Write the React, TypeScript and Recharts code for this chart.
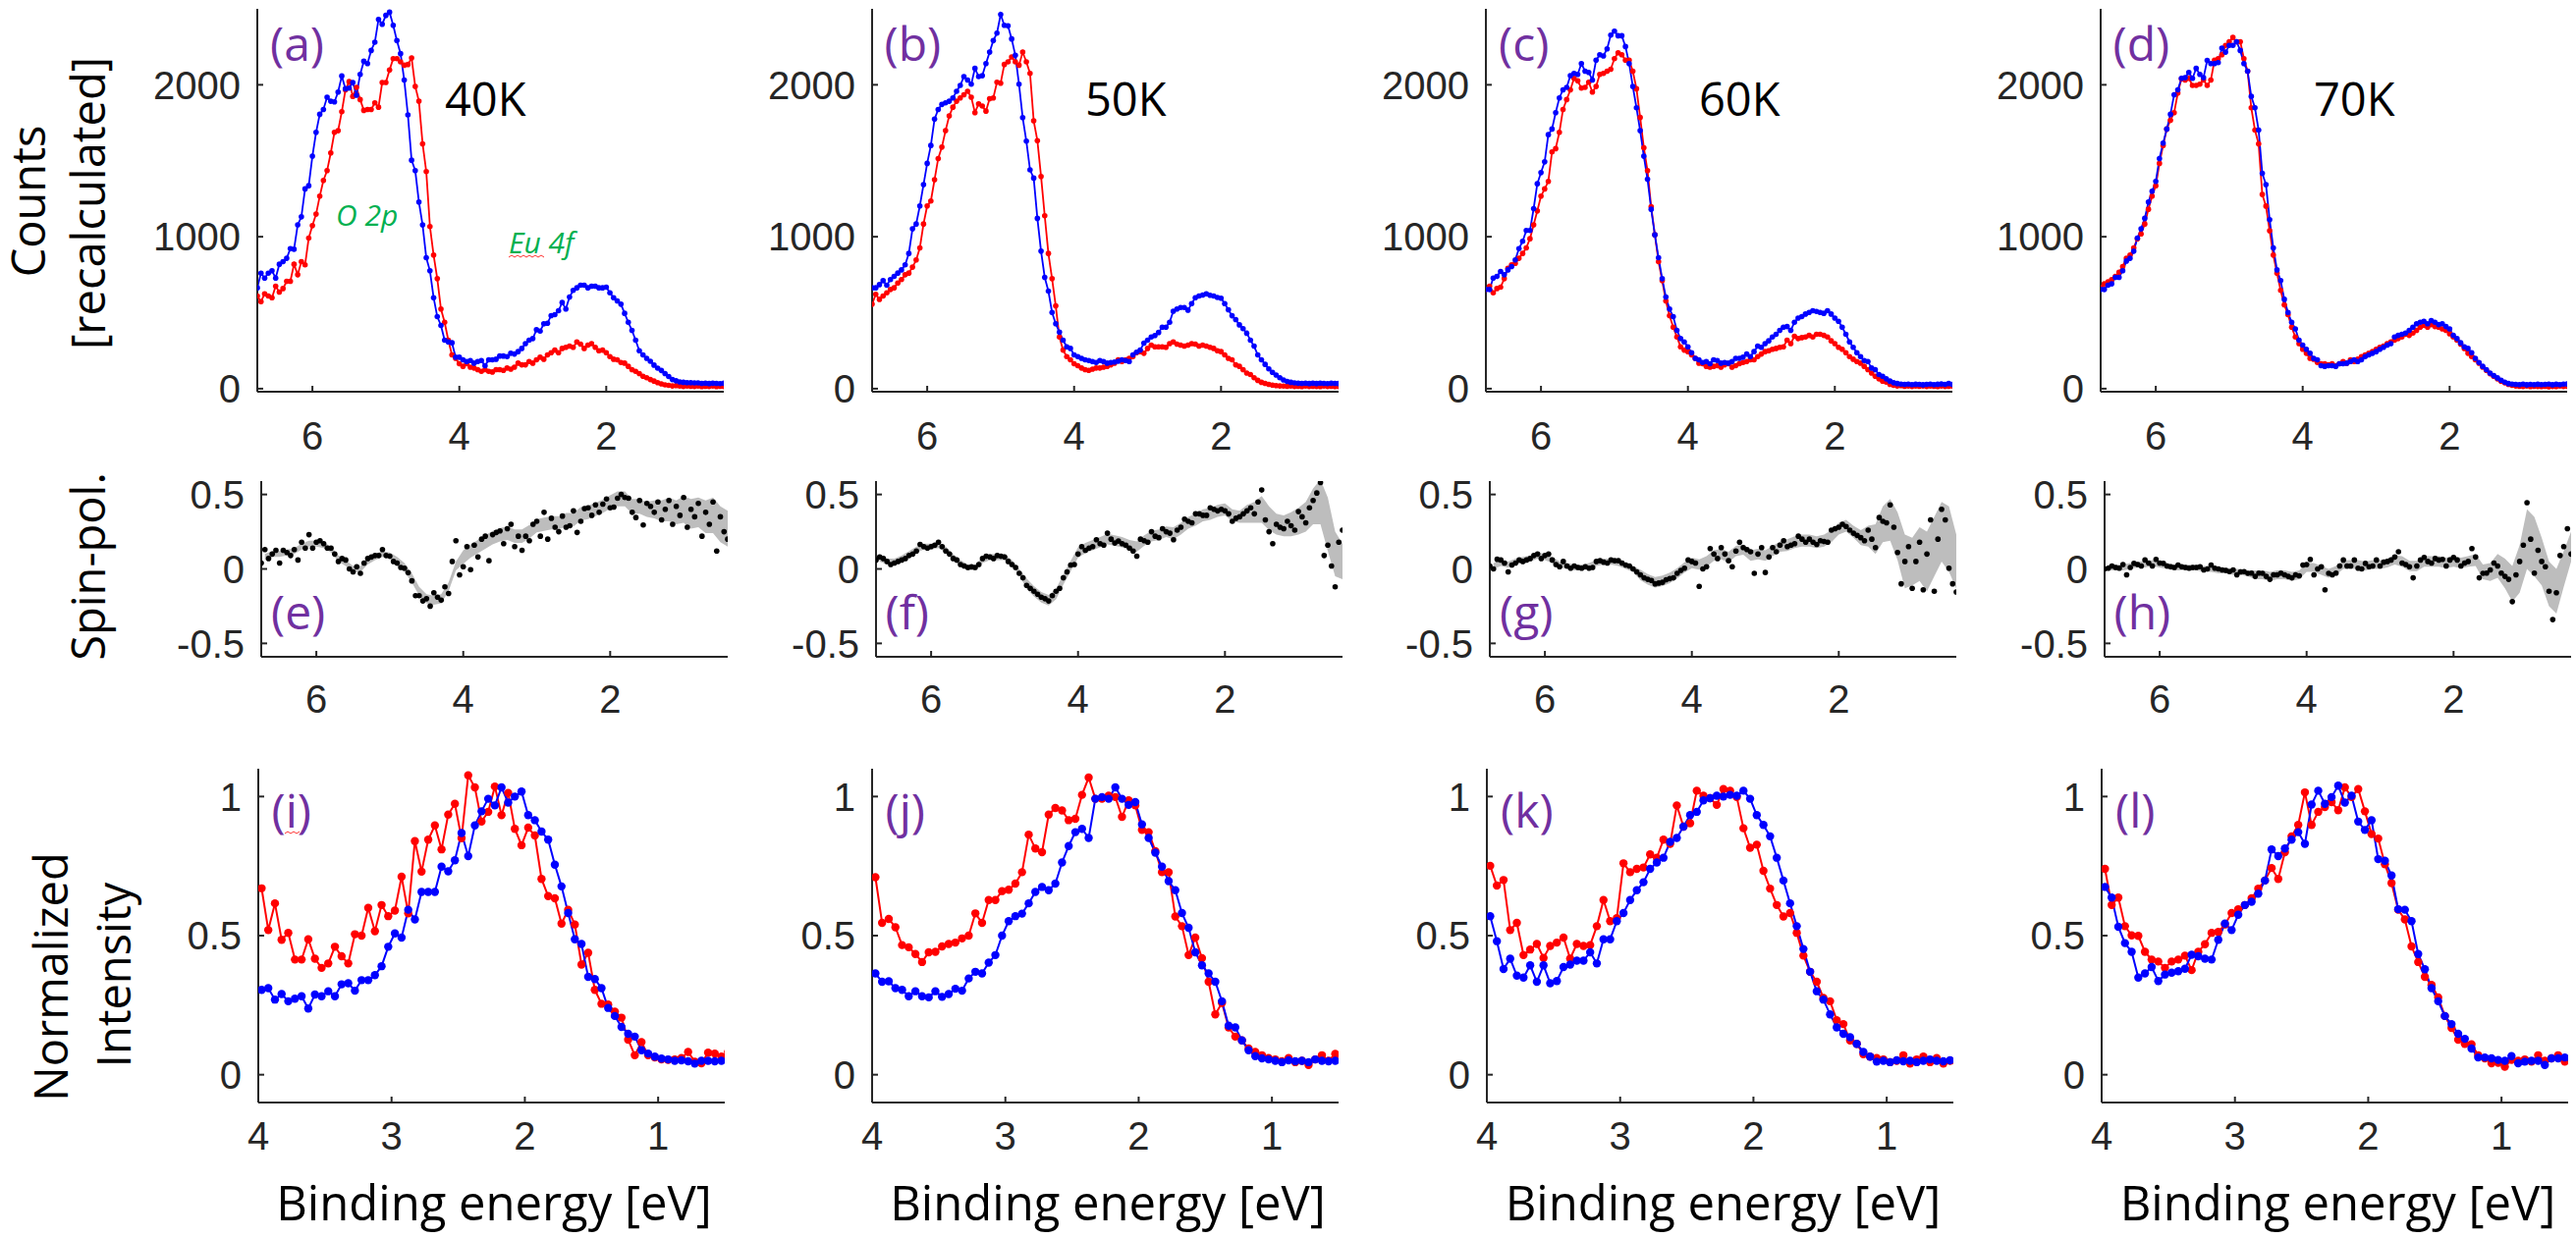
import React from 'react'
import { ComposedChart, Line, Area, XAxis, YAxis } from 'recharts'

// energy grids in eV (equidistant measurement steps)
const eTop = Array.from({ length: 128 }, (_, i) => +(6.75 - 0.05 * i).toFixed(3))
const eNorm = Array.from({ length: 71 }, (_, i) => +(3.975 - 0.05 * i).toFixed(3))

// ---- row 1: counts [recalculated], 6.75 -> 0.40 eV ----
const red40 = [
  610, 573, 625, 610, 599, 675, 636, 659, 707, 707, 819, 750, 836, 815, 991, 1073, 1149, 1267, 1371, 1435,
  1552, 1687, 1698, 1823, 1967, 2021, 1924, 1983, 1903, 1832, 1838, 1838, 1881, 1853, 2015, 2015, 2097, 2172, 2172, 2151,
  2129, 2134, 2177, 1989, 1892, 1612, 1429, 1067, 879, 724, 524, 437, 319, 222, 200, 164, 147, 164, 142, 136,
  125, 114, 125, 114, 110, 125, 125, 121, 136, 129, 142, 168, 157, 157, 179, 168, 190, 207, 194, 222,
  237, 254, 237, 265, 272, 280, 272, 308, 293, 265, 287, 297, 272, 250, 254, 237, 211, 194, 190, 172,
  168, 147, 125, 114, 100, 82, 72, 60, 50, 40, 32, 25, 22, 18, 20, 17, 15, 18, 16, 15,
  17, 14, 16, 15, 18, 14, 16, 15,
]
const blue40 = [
  664, 760, 728, 760, 776, 728, 819, 836, 858, 922, 918, 1078, 1131, 1315, 1336, 1530, 1687, 1806, 1838, 1918,
  1892, 1888, 1952, 2058, 1974, 1978, 2015, 1931, 2069, 2155, 2140, 2226, 2280, 2431, 2399, 2457, 2478, 2392, 2291, 2205,
  2032, 1802, 1504, 1435, 1228, 1078, 862, 776, 599, 474, 416, 319, 308, 302, 207, 207, 190, 179, 185, 168,
  179, 185, 151, 190, 190, 194, 215, 215, 211, 233, 228, 244, 265, 297, 319, 330, 388, 379, 427, 431,
  481, 487, 513, 567, 524, 603, 647, 664, 681, 681, 664, 675, 675, 664, 664, 668, 631, 599, 578, 556,
  496, 437, 384, 319, 250, 222, 200, 180, 155, 135, 120, 100, 80, 60, 52, 45, 42, 40, 40, 38,
  38, 35, 37, 34, 36, 35, 33, 36,
]
const red50 = [
  556, 621, 588, 610, 631, 653, 664, 696, 718, 750, 761, 800, 847, 927, 1084, 1203, 1235, 1375, 1515, 1590,
  1698, 1795, 1853, 1892, 1914, 1935, 1957, 1918, 1817, 1875, 1860, 1827, 1909, 1914, 2017, 2011, 2134, 2151, 2183, 2151,
  2129, 2215, 2151, 2075, 1763, 1633, 1397, 1138, 890, 724, 545, 340, 254, 211, 190, 164, 151, 136, 125, 121,
  129, 136, 136, 142, 147, 157, 168, 190, 179, 190, 200, 211, 237, 244, 233, 265, 287, 276, 276, 276,
  272, 297, 308, 293, 287, 280, 287, 297, 293, 280, 287, 280, 272, 265, 250, 244, 222, 200, 190, 157,
  147, 125, 103, 93, 72, 55, 42, 35, 28, 24, 20, 18, 17, 16, 18, 15, 16, 14, 17, 15,
  16, 15, 14, 17, 15, 16, 14, 15,
]
const blue50 = [
  664, 664, 685, 711, 681, 718, 739, 761, 782, 815, 890, 1052, 1084, 1203, 1343, 1483, 1601, 1774, 1838, 1871,
  1881, 1892, 1914, 1957, 1996, 2054, 2032, 2004, 2108, 2054, 2060, 2140, 2215, 2291, 2340, 2463, 2392, 2388, 2302, 2194,
  2004, 1784, 1629, 1440, 1386, 1121, 905, 733, 642, 502, 427, 373, 319, 276, 265, 222, 211, 200, 190, 185,
  179, 172, 185, 179, 168, 172, 175, 180, 190, 185, 179, 222, 240, 254, 300, 319, 340, 350, 370, 405,
  405, 437, 510, 524, 534, 534, 517, 560, 599, 610, 616, 625, 615, 610, 600, 595, 560, 520, 480, 455,
  420, 395, 365, 319, 280, 222, 190, 160, 130, 108, 90, 72, 58, 48, 42, 38, 36, 35, 37, 34,
  36, 34, 37, 35, 33, 36, 35, 34,
]
const red60 = [
  653, 675, 631, 659, 668, 724, 793, 815, 825, 858, 890, 927, 987, 1078, 1170, 1267, 1315, 1364, 1558, 1580,
  1687, 1838, 1903, 1967, 2043, 2026, 1978, 1983, 2017, 1952, 1989, 2069, 2075, 2090, 2103, 2172, 2211, 2198, 2162, 2162,
  2090, 1974, 1785, 1586, 1435, 1198, 1013, 836, 711, 578, 481, 405, 340, 276, 254, 244, 222, 200, 168, 164,
  147, 142, 147, 151, 142, 157, 164, 142, 151, 164, 172, 179, 190, 190, 211, 228, 244, 250, 259, 265,
  272, 276, 319, 297, 345, 330, 336, 340, 351, 340, 358, 358, 351, 340, 315, 297, 272, 259, 237, 211,
  194, 179, 168, 147, 125, 103, 82, 65, 50, 43, 28, 22, 18, 20, 16, 18, 15, 17, 16, 18,
  15, 17, 16, 14, 18, 15, 16, 17,
]
const blue60 = [
  653, 653, 728, 739, 772, 750, 782, 804, 847, 922, 970, 1041, 1041, 1185, 1349, 1422, 1493, 1672, 1709, 1817,
  1914, 1967, 1983, 2060, 2075, 2069, 2140, 2090, 2082, 2032, 2162, 2198, 2190, 2237, 2327, 2353, 2323, 2323, 2252, 2140,
  1989, 1849, 1698, 1530, 1379, 1181, 1013, 862, 724, 603, 524, 474, 384, 330, 308, 276, 237, 200, 190, 172,
  179, 164, 190, 185, 168, 172, 168, 179, 200, 200, 207, 228, 211, 244, 280, 272, 297, 315, 340, 358,
  384, 405, 409, 384, 437, 465, 474, 491, 502, 513, 508, 502, 496, 513, 491, 465, 444, 405, 358, 308,
  272, 237, 211, 185, 179, 136, 125, 93, 82, 65, 50, 39, 34, 30, 28, 30, 27, 29, 28, 26,
  28, 30, 27, 29, 31, 28, 34, 28,
]
const red70 = [
  664, 690, 703, 718, 739, 767, 804, 858, 879, 927, 987, 1019, 1084, 1181, 1267, 1336, 1483, 1601, 1709, 1767,
  1817, 1946, 2039, 2032, 2043, 1996, 1996, 2004, 2032, 1996, 2032, 2162, 2172, 2198, 2259, 2284, 2312, 2284, 2284, 2172,
  2090, 1849, 1702, 1612, 1278, 1202, 1040, 879, 761, 647, 552, 487, 405, 340, 297, 259, 233, 200, 194, 172,
  164, 164, 157, 164, 151, 164, 179, 168, 190, 179, 194, 211, 222, 233, 244, 259, 272, 280, 297, 308,
  319, 330, 340, 358, 351, 366, 384, 405, 416, 405, 422, 409, 405, 394, 384, 362, 340, 319, 293, 265,
  233, 211, 190, 168, 142, 121, 99, 82, 65, 50, 39, 28, 22, 18, 16, 15, 17, 14, 16, 15,
  14, 16, 13, 15, 14, 17, 15, 16,
]
const blue70 = [
  653, 653, 681, 690, 733, 733, 776, 840, 858, 905, 991, 1052, 1121, 1228, 1300, 1364, 1515, 1616, 1709, 1806,
  1935, 1967, 2043, 2047, 2082, 2043, 2108, 2069, 2047, 2161, 2140, 2140, 2146, 2241, 2215, 2259, 2259, 2284, 2226, 2140,
  2090, 1924, 1849, 1702, 1418, 1343, 1112, 927, 782, 711, 588, 502, 437, 394, 319, 287, 259, 233, 200, 190,
  151, 147, 151, 151, 147, 164, 164, 168, 179, 190, 179, 190, 211, 222, 233, 244, 259, 272, 287, 297,
  340, 351, 358, 366, 384, 405, 427, 437, 444, 427, 448, 437, 422, 427, 409, 394, 351, 330, 302, 276,
  265, 237, 200, 172, 147, 125, 103, 86, 71, 56, 43, 34, 30, 28, 27, 30, 26, 28, 27, 29,
  27, 28, 30, 26, 29, 27, 30, 31,
]

// ---- row 2: spin polarisation dots, 6.75 -> 0.40 eV ----
const spin40 = [
  0.04, 0.13, 0.07, 0.10, 0.125, 0.04, 0.125, 0.11, 0.09, 0.13, 0.06, 0.18, 0.14, 0.23, 0.14, 0.18, 0.19, 0.17, 0.14, 0.14,
  0.10, 0.05, 0.07, 0.06, 0.0, -0.02, 0.015, -0.03, 0.04, 0.07, 0.08, 0.09, 0.09, 0.13, 0.09, 0.085, 0.05, 0.04, 0.01, 0.005,
  -0.025, -0.08, -0.18, -0.18, -0.215, -0.2, -0.25, -0.16, -0.19, -0.21, -0.12, -0.165, 0.05, 0.19, -0.04, 0.015, 0.15, -0.005, 0.16, 0.08,
  0.2, 0.22, 0.055, 0.23, 0.245, 0.255, 0.17, 0.27, 0.3, 0.15, 0.22, 0.125, 0.22, 0.19, 0.3, 0.32, 0.22, 0.38, 0.2, 0.34,
  0.28, 0.25, 0.355, 0.28, 0.29, 0.39, 0.245, 0.32, 0.405, 0.41, 0.36, 0.43, 0.38, 0.435, 0.47, 0.41, 0.415, 0.475, 0.5, 0.48,
  0.475, 0.38, 0.345, 0.46, 0.295, 0.44, 0.42, 0.38, 0.45, 0.33, 0.40, 0.46, 0.30, 0.42, 0.36, 0.48, 0.28, 0.40, 0.35, 0.44,
  0.22, 0.38, 0.30, 0.45, 0.12, 0.35, 0.25, 0.20,
]
const spin50 = [
  0.06, 0.08, 0.07, 0.05, 0.03, 0.04, 0.05, 0.06, 0.07, 0.09, 0.10, 0.12, 0.165, 0.15, 0.14, 0.15, 0.16, 0.18, 0.15, 0.12,
  0.10, 0.07, 0.06, 0.03, 0.02, 0.01, 0.015, 0.01, 0.03, 0.07, 0.085, 0.08, 0.07, 0.09, 0.085, 0.08, 0.05, 0.03, 0.01, -0.03,
  -0.06, -0.11, -0.13, -0.15, -0.17, -0.19, -0.2, -0.215, -0.18, -0.15, -0.13, -0.06, -0.02, 0.026, 0.03, 0.10, 0.15, 0.125, 0.14, 0.15,
  0.196, 0.17, 0.16, 0.24, 0.20, 0.174, 0.187, 0.17, 0.16, 0.14, 0.12, 0.086, 0.2, 0.19, 0.18, 0.25, 0.22, 0.21, 0.27, 0.25,
  0.24, 0.196, 0.26, 0.28, 0.335, 0.32, 0.31, 0.37, 0.37, 0.36, 0.36, 0.41, 0.40, 0.39, 0.40, 0.39, 0.37, 0.32, 0.34, 0.35,
  0.37, 0.39, 0.41, 0.37, 0.45, 0.53, 0.33, 0.25, 0.17, 0.3, 0.28, 0.27, 0.32, 0.29, 0.26, 0.385, 0.35, 0.31, 0.41, 0.46,
  0.51, 0.58, 0.09, 0.16, 0.02, -0.12, 0.18, 0.26,
]
const spin60 = [
  0.02, 0.0, 0.065, 0.06, 0.04, -0.02, 0.026, 0.04, 0.06, 0.05, 0.06, 0.07, 0.09, 0.10, 0.07, 0.09, 0.10, 0.06, 0.03, 0.015,
  0.05, 0.02, 0.005, 0.02, 0.01, 0.005, 0.015, 0.005, 0.01, 0.05, 0.055, 0.045, 0.04, 0.06, 0.055, 0.055, 0.04, 0.026, 0.02, 0.0,
  -0.02, -0.04, -0.06, -0.07, -0.077, -0.1, -0.095, -0.09, -0.073, -0.065, -0.06, -0.03, -0.01, 0.005, 0.06, 0.05, 0.04, -0.117, 0.0, 0.015,
  0.137, 0.10, 0.07, 0.143, 0.1, 0.055, 0.015, 0.12, 0.18, 0.143, 0.13, 0.115, -0.03, 0.1, 0.143, -0.024, 0.08, 0.143, 0.115, 0.16,
  0.19, 0.15, 0.16, 0.17, 0.22, 0.20, 0.18, 0.2, 0.18, 0.165, 0.19, 0.185, 0.18, 0.26, 0.27, 0.28, 0.3, 0.285, 0.26, 0.24,
  0.225, 0.21, 0.19, 0.26, 0.2, 0.143, 0.345, 0.32, 0.31, 0.43, 0.28, 0.11, -0.1, 0.05, 0.15, -0.13, 0.05, 0.18, -0.14, 0.1,
  0.33, -0.15, 0.2, 0.40, 0.33, 0.005, -0.1, -0.155,
]
const spin70 = [
  0.0, 0.005, 0.02, 0.01, 0.005, 0.03, -0.04, 0.01, 0.037, 0.03, 0.02, 0.06, 0.04, 0.02, 0.064, 0.04, 0.037, 0.02, 0.015, 0.01,
  0.026, 0.015, 0.01, 0.005, 0.01, 0.01, 0.015, -0.007, 0.0, 0.026, 0.005, 0.0, -0.007, -0.01, -0.018, -0.007, -0.04, -0.02, -0.018, -0.03,
  -0.028, -0.05, -0.028, -0.03, -0.05, -0.07, -0.04, -0.04, -0.028, -0.04, -0.05, -0.06, -0.04, -0.046, 0.026, 0.03, 0.064, -0.04, 0.0, 0.015,
  -0.14, -0.03, -0.04, -0.028, 0.02, 0.06, 0.02, 0.02, 0.06, 0.005, 0.0, 0.037, 0.015, 0.02, 0.06, 0.02, 0.045, 0.05, 0.06, 0.08,
  0.115, 0.04, 0.03, 0.015, -0.06, 0.02, 0.06, 0.077, 0.05, 0.04, 0.07, 0.06, 0.064, 0.02, 0.06, 0.077, 0.06, 0.02, 0.04, 0.05,
  0.137, 0.08, -0.06, -0.03, -0.028, -0.007, 0.04, 0.02, -0.028, -0.05, -0.07, -0.22, -0.04, 0.05, 0.16, 0.445, 0.2, -0.028, 0.125, 0.05,
  0.015, -0.15, -0.34, -0.16, 0.09, 0.15, 0.27, 0.1,
]

// grey error band: centre and half width every 0.1 eV, 6.7 -> 0.4 eV
const bandMid40 = [
  0.08, 0.10, 0.10, 0.11, 0.12, 0.15, 0.17, 0.17, 0.16, 0.13, 0.07, 0.04, 0.00, 0.00, 0.05, 0.08, 0.10, 0.09, 0.05, 0.01,
  -0.06, -0.15, -0.20, -0.21, -0.20, -0.12, 0.02, 0.08, 0.12, 0.15, 0.18, 0.21, 0.23, 0.24, 0.22, 0.22, 0.25, 0.29, 0.30, 0.31,
  0.31, 0.33, 0.33, 0.37, 0.38, 0.40, 0.42, 0.45, 0.47, 0.47, 0.42, 0.42, 0.40, 0.40, 0.39, 0.40, 0.38, 0.40, 0.37, 0.38,
  0.35, 0.36, 0.30, 0.27,
]
const bandHalf40 = [
  0.02, 0.02, 0.02, 0.02, 0.02, 0.02, 0.02, 0.02, 0.02, 0.02, 0.02, 0.02, 0.02, 0.02, 0.02, 0.02, 0.02, 0.02, 0.03, 0.03,
  0.03, 0.03, 0.03, 0.03, 0.03, 0.03, 0.03, 0.045, 0.045, 0.045, 0.045, 0.045, 0.045, 0.045, 0.045, 0.045, 0.045, 0.045, 0.045, 0.045,
  0.045, 0.045, 0.045, 0.045, 0.045, 0.045, 0.045, 0.045, 0.05, 0.05, 0.05, 0.05, 0.05, 0.06, 0.07, 0.08, 0.08, 0.09, 0.10, 0.10,
  0.11, 0.12, 0.12, 0.12,
]
const bandMid50 = [
  0.07, 0.05, 0.05, 0.07, 0.10, 0.13, 0.15, 0.15, 0.16, 0.13, 0.08, 0.04, 0.01, 0.01, 0.06, 0.08, 0.08, 0.08, 0.04, -0.02,
  -0.10, -0.15, -0.19, -0.21, -0.17, -0.07, 0.02, 0.11, 0.14, 0.16, 0.18, 0.20, 0.19, 0.18, 0.16, 0.15, 0.19, 0.22, 0.23, 0.25,
  0.24, 0.27, 0.31, 0.33, 0.36, 0.37, 0.39, 0.40, 0.36, 0.35, 0.37, 0.38, 0.40, 0.34, 0.30, 0.29, 0.30, 0.32, 0.35, 0.42,
  0.45, 0.30, 0.10, 0.05,
]
const bandHalf50 = [
  0.02, 0.02, 0.02, 0.02, 0.02, 0.02, 0.02, 0.02, 0.02, 0.02, 0.02, 0.02, 0.02, 0.02, 0.02, 0.02, 0.02, 0.02, 0.02, 0.02,
  0.035, 0.035, 0.035, 0.035, 0.035, 0.035, 0.035, 0.035, 0.035, 0.035, 0.035, 0.035, 0.035, 0.035, 0.035, 0.035, 0.035, 0.035, 0.035, 0.035,
  0.04, 0.04, 0.04, 0.04, 0.04, 0.04, 0.04, 0.04, 0.04, 0.04, 0.06, 0.07, 0.09, 0.08, 0.07, 0.07, 0.08, 0.09, 0.10, 0.12,
  0.15, 0.18, 0.15, 0.12,
]
const bandMid60 = [
  0.02, 0.04, 0.03, 0.05, 0.06, 0.07, 0.09, 0.08, 0.06, 0.03, 0.02, 0.01, 0.01, 0.02, 0.04, 0.05, 0.05, 0.04, 0.02, 0.00,
  -0.04, -0.07, -0.09, -0.08, -0.06, -0.03, 0.01, 0.04, 0.03, 0.05, 0.09, 0.10, 0.08, 0.12, 0.13, 0.09, 0.10, 0.09, 0.12, 0.15,
  0.16, 0.18, 0.19, 0.19, 0.18, 0.19, 0.22, 0.27, 0.29, 0.25, 0.21, 0.22, 0.20, 0.30, 0.33, 0.22, 0.05, 0.05, 0.10, 0.05,
  0.15, 0.25, 0.20, 0.05,
]
const bandHalf60 = [
  0.02, 0.02, 0.02, 0.02, 0.02, 0.02, 0.02, 0.02, 0.02, 0.02, 0.02, 0.02, 0.02, 0.02, 0.02, 0.02, 0.02, 0.02, 0.02, 0.02,
  0.035, 0.035, 0.035, 0.035, 0.035, 0.035, 0.035, 0.035, 0.035, 0.035, 0.035, 0.035, 0.035, 0.035, 0.035, 0.035, 0.035, 0.035, 0.035, 0.035,
  0.04, 0.04, 0.04, 0.04, 0.04, 0.04, 0.04, 0.04, 0.04, 0.04, 0.05, 0.07, 0.10, 0.12, 0.14, 0.16, 0.18, 0.16, 0.18, 0.20,
  0.20, 0.20, 0.22, 0.18,
]
const bandMid70 = [
  0.01, 0.01, 0.01, 0.02, 0.03, 0.03, 0.04, 0.03, 0.02, 0.01, 0.01, 0.01, 0.01, 0.00, 0.00, -0.01, -0.01, -0.02, -0.02, -0.03,
  -0.04, -0.04, -0.05, -0.04, -0.04, -0.05, -0.04, 0.01, 0.01, -0.01, -0.03, -0.01, 0.03, 0.03, 0.03, 0.02, 0.03, 0.03, 0.04, 0.06,
  0.05, 0.02, 0.02, 0.05, 0.05, 0.05, 0.04, 0.05, 0.04, 0.05, 0.06, -0.02, -0.02, 0.02, -0.03, -0.10, 0.00, 0.20, 0.15, 0.05,
  -0.10, -0.15, 0.00, 0.15,
]
const bandHalf70 = [
  0.02, 0.02, 0.02, 0.02, 0.02, 0.02, 0.02, 0.02, 0.02, 0.02, 0.02, 0.02, 0.02, 0.02, 0.02, 0.02, 0.02, 0.02, 0.02, 0.02,
  0.03, 0.03, 0.03, 0.03, 0.03, 0.03, 0.03, 0.03, 0.03, 0.03, 0.03, 0.03, 0.03, 0.03, 0.03, 0.03, 0.03, 0.03, 0.03, 0.03,
  0.035, 0.035, 0.035, 0.035, 0.035, 0.035, 0.035, 0.035, 0.035, 0.035, 0.04, 0.05, 0.06, 0.08, 0.10, 0.12, 0.16, 0.20, 0.20, 0.16,
  0.15, 0.15, 0.12, 0.10,
]

// ---- row 3: normalized Eu 4f intensity, 3.975 -> 0.475 eV ----
const norm40Red = [
  0.67, 0.52, 0.616, 0.485, 0.51, 0.414, 0.414, 0.487, 0.417, 0.384,
  0.40, 0.46, 0.426, 0.40, 0.505, 0.50, 0.60, 0.516, 0.61, 0.57,
  0.59, 0.712, 0.58, 0.84, 0.73, 0.845, 0.896, 0.81, 0.935, 0.974,
  0.85, 1.076, 1.033, 0.91, 0.945, 1.036, 0.933, 1.013, 0.884, 0.825,
  0.888, 0.86, 0.704, 0.642, 0.634, 0.543, 0.593, 0.54, 0.396, 0.438,
  0.305, 0.255, 0.252, 0.227, 0.205, 0.126, 0.07, 0.117, 0.07, 0.062,
  0.055, 0.053, 0.055, 0.06, 0.082, 0.047, 0.041, 0.079, 0.076, 0.065,
  0.082,
]
const norm40Blue = [
  0.305, 0.311, 0.27, 0.29, 0.264, 0.273, 0.282, 0.238, 0.288, 0.282,
  0.30, 0.282, 0.325, 0.329, 0.302, 0.34, 0.34, 0.358, 0.39, 0.46,
  0.508, 0.493, 0.593, 0.558, 0.657, 0.657, 0.657, 0.748, 0.731, 0.771,
  0.869, 0.786, 0.896, 0.947, 0.992, 0.968, 1.033, 0.978, 1.0, 1.018,
  0.933, 0.915, 0.874, 0.845, 0.755, 0.677, 0.581, 0.487, 0.47, 0.352,
  0.344, 0.311, 0.24, 0.211, 0.172, 0.147, 0.137, 0.088, 0.076, 0.065,
  0.058, 0.055, 0.05, 0.052, 0.048, 0.04, 0.05, 0.05, 0.048, 0.05,
  0.05,
]
const norm50Red = [
  0.71, 0.546, 0.56, 0.53, 0.466, 0.458, 0.434, 0.405, 0.44, 0.442,
  0.461, 0.47, 0.475, 0.49, 0.50, 0.58, 0.546, 0.628, 0.628, 0.66,
  0.665, 0.687, 0.728, 0.863, 0.813, 0.80, 0.935, 0.959, 0.95, 0.915,
  0.92, 1.006, 1.068, 0.992, 0.992, 1.003, 0.998, 0.927, 0.986, 0.968,
  0.88, 0.872, 0.804, 0.728, 0.728, 0.569, 0.534, 0.43, 0.493, 0.419,
  0.334, 0.217, 0.258, 0.17, 0.137, 0.123, 0.094, 0.082, 0.07, 0.06,
  0.055, 0.048, 0.06, 0.045, 0.05, 0.035, 0.055, 0.07, 0.05, 0.075,
  0.06,
]
const norm50Blue = [
  0.364, 0.334, 0.336, 0.311, 0.305, 0.282, 0.30, 0.282, 0.278, 0.30,
  0.28, 0.29, 0.309, 0.302, 0.346, 0.37, 0.364, 0.403, 0.43, 0.50,
  0.552, 0.57, 0.579, 0.616, 0.657, 0.675, 0.663, 0.687, 0.763, 0.822,
  0.872, 0.884, 0.851, 0.992, 0.998, 0.992, 1.033, 0.992, 0.97, 0.98,
  0.90, 0.851, 0.798, 0.748, 0.696, 0.663, 0.581, 0.528, 0.44, 0.393,
  0.364, 0.334, 0.264, 0.176, 0.17, 0.123, 0.088, 0.067, 0.059, 0.055,
  0.05, 0.045, 0.052, 0.048, 0.05, 0.045, 0.055, 0.05, 0.048, 0.05,
  0.05,
]
const norm60Red = [
  0.751, 0.68, 0.70, 0.52, 0.546, 0.43, 0.45, 0.47, 0.42, 0.463,
  0.475, 0.493, 0.417, 0.47, 0.463, 0.466, 0.534, 0.628, 0.552, 0.563,
  0.76, 0.728, 0.74, 0.745, 0.792, 0.78, 0.845, 0.83, 0.968, 0.892,
  0.904, 1.021, 1.003, 0.994, 0.97, 1.027, 1.021, 0.998, 0.886, 0.816,
  0.827, 0.733, 0.669, 0.61, 0.569, 0.581, 0.51, 0.428, 0.37, 0.334,
  0.276, 0.264, 0.196, 0.182, 0.123, 0.111, 0.074, 0.065, 0.06, 0.055,
  0.045, 0.05, 0.07, 0.04, 0.055, 0.065, 0.045, 0.06, 0.04, 0.05,
  0.045,
]
const norm60Blue = [
  0.57, 0.48, 0.38, 0.417, 0.356, 0.349, 0.393, 0.334, 0.393, 0.329,
  0.337, 0.387, 0.396, 0.41, 0.41, 0.44, 0.40, 0.487, 0.487, 0.552,
  0.581, 0.628, 0.663, 0.692, 0.74, 0.763, 0.78, 0.837, 0.851, 0.892,
  0.933, 0.945, 0.986, 0.994, 1.003, 1.0, 1.006, 1.003, 1.021, 0.992,
  0.933, 0.898, 0.857, 0.78, 0.698, 0.616, 0.534, 0.452, 0.37, 0.30,
  0.27, 0.217, 0.17, 0.147, 0.135, 0.111, 0.082, 0.065, 0.047, 0.05,
  0.045, 0.052, 0.048, 0.05, 0.045, 0.05, 0.055, 0.05, 0.048, 0.052,
  0.05,
]
const norm70Red = [
  0.74, 0.61, 0.637, 0.534, 0.501, 0.499, 0.442, 0.414, 0.407, 0.384,
  0.407, 0.414, 0.428, 0.376, 0.442, 0.469, 0.51, 0.513, 0.54, 0.581,
  0.595, 0.61, 0.634, 0.669, 0.698, 0.743, 0.704, 0.80, 0.857, 0.898,
  1.015, 0.898, 0.945, 0.962, 0.98, 0.951, 1.033, 0.998, 1.027, 0.947,
  0.865, 0.849, 0.757, 0.689, 0.593, 0.558, 0.461, 0.405, 0.352, 0.323,
  0.278, 0.211, 0.168, 0.126, 0.111, 0.109, 0.07, 0.059, 0.041, 0.043,
  0.029, 0.053, 0.05, 0.055, 0.047, 0.07, 0.05, 0.059, 0.07, 0.047,
  0.05,
]
const norm70Blue = [
  0.675, 0.637, 0.532, 0.473, 0.442, 0.349, 0.364, 0.387, 0.337, 0.36,
  0.367, 0.372, 0.381, 0.431, 0.426, 0.417, 0.414, 0.485, 0.543, 0.52,
  0.575, 0.61, 0.622, 0.651, 0.698, 0.81, 0.786, 0.813, 0.845, 0.872,
  0.83, 0.971, 1.021, 0.974, 0.998, 1.039, 0.978, 1.003, 0.91, 0.88,
  0.915, 0.775, 0.769, 0.716, 0.595, 0.593, 0.552, 0.434, 0.379, 0.311,
  0.264, 0.211, 0.182, 0.147, 0.129, 0.094, 0.062, 0.062, 0.059, 0.053,
  0.05, 0.067, 0.041, 0.047, 0.05, 0.05, 0.035, 0.059, 0.059, 0.062,
  0.055,
]

const temps = ['40K', '50K', '60K', '70K']
const countsTicks = [0, 1000, 2000]
const spinTicks = [-0.5, 0, 0.5]
const normTicks = [0, 0.5, 1]
const wideTicks = [2, 4, 6]
const narrowTicks = [1, 2, 3, 4]

const pairData = (grid: number[], red: number[], blue: number[]) =>
  grid.map((x, i) => ({ x, red: red[i], blue: blue[i] }))

const spinData = (dots: number[], mid: number[], half: number[]) =>
  eTop.map((x, i) => {
    const row: any = { x, dot: dots[i] }
    if (i % 2 === 1) {
      const j = (i - 1) / 2
      row.band = [mid[j] - half[j], mid[j] + half[j]]
    }
    return row
  })

const countsSets = [
  pairData(eTop, red40, blue40),
  pairData(eTop, red50, blue50),
  pairData(eTop, red60, blue60),
  pairData(eTop, red70, blue70),
]
const spinSets = [
  spinData(spin40, bandMid40, bandHalf40),
  spinData(spin50, bandMid50, bandHalf50),
  spinData(spin60, bandMid60, bandHalf60),
  spinData(spin70, bandMid70, bandHalf70),
]
const normSets = [
  pairData(eNorm, norm40Red, norm40Blue),
  pairData(eNorm, norm50Red, norm50Blue),
  pairData(eNorm, norm60Red, norm60Blue),
  pairData(eNorm, norm70Red, norm70Blue),
]

const INK = '#262626'
const PURPLE = '#7030A0'
const GREEN = '#00B050'
const LABEL_FONT = '"Open Sans", "Noto Sans", "DejaVu Sans", sans-serif'
const tickFont = { fontSize: 40, fill: INK, fontFamily: '"Liberation Sans", Arial, sans-serif' }
const axisStroke = { stroke: INK, strokeWidth: 2 }
const noLabel = () => <g />

const AXW = 130
const PADT = 12
const PADR = 12
const AXH = 80
const PW = 475

const row1 = { top: 9, h: 390, lefts: [262, 887.5, 1513, 2138.5] }
const row2 = { top: 490, h: 179, lefts: [266, 891.5, 1517, 2142.5] }
const row3 = { top: 783, h: 340, lefts: [262.5, 887.5, 1514, 2140] }

function Panel(props: any) {
  const { left, top, h, xDomain, xTicks, yDomain, yTicks, xGap, data, children } = props
  return (
    <div style={{ position: 'absolute', left: left - AXW, top: top - PADT }}>
      <ComposedChart
        width={AXW + PW + PADR}
        height={PADT + h + AXH}
        data={data}
        margin={{ top: PADT, right: PADR, bottom: 0, left: 0 }}
      >
        <XAxis
          xAxisId="b"
          type="number"
          dataKey="x"
          orientation="bottom"
          domain={xDomain}
          ticks={xTicks}
          interval={0}
          reversed
          allowDataOverflow
          height={AXH}
          tickSize={-6}
          tickMargin={xGap + 6}
          tick={tickFont}
          axisLine={axisStroke}
          tickLine={axisStroke}
        />
        <XAxis
          xAxisId="t"
          type="number"
          dataKey="x"
          orientation="top"
          domain={xDomain}
          ticks={xTicks}
          interval={0}
          reversed
          allowDataOverflow
          height={0}
          tickSize={-6}
          tick={noLabel}
          axisLine={axisStroke}
          tickLine={axisStroke}
        />
        <YAxis
          yAxisId="l"
          type="number"
          domain={yDomain}
          ticks={yTicks}
          interval={0}
          allowDataOverflow
          width={AXW}
          tickSize={-6}
          tickMargin={23}
          tick={tickFont}
          axisLine={axisStroke}
          tickLine={axisStroke}
        />
        <YAxis
          yAxisId="r"
          type="number"
          orientation="right"
          domain={yDomain}
          ticks={yTicks}
          interval={0}
          allowDataOverflow
          width={0}
          tickSize={-6}
          tick={noLabel}
          axisLine={axisStroke}
          tickLine={axisStroke}
        />
        {children}
      </ComposedChart>
    </div>
  )
}

function pairLines(r: number, w: number) {
  return [
    <Line
      key="red"
      xAxisId="b"
      yAxisId="l"
      dataKey="red"
      type="linear"
      stroke="#FF0000"
      strokeWidth={w}
      dot={{ r, fill: '#FF0000', stroke: 'none' }}
      activeDot={false}
      isAnimationActive={false}
    />,
    <Line
      key="blue"
      xAxisId="b"
      yAxisId="l"
      dataKey="blue"
      type="linear"
      stroke="#0000FF"
      strokeWidth={w}
      dot={{ r, fill: '#0000FF', stroke: 'none' }}
      activeDot={false}
      isAnimationActive={false}
    />,
  ]
}

const letters1 = ['(a)', '(b)', '(c)', '(d)']
const letters2 = ['(e)', '(f)', '(g)', '(h)']
const letters3 = ['(i)', '(j)', '(k)', '(l)']
const tempX = [453, 1105, 1730, 2356]

export default function App() {
  return (
    <div style={{ position: 'absolute', left: 0, top: 0, width: 2623, height: 1261, background: '#fff', overflow: 'hidden' }}>
      {countsSets.map((d, k) => (
        <Panel key={'c' + k} left={row1.lefts[k]} top={row1.top} h={row1.h} xDomain={[0.4, 6.75]} xTicks={wideTicks}
          yDomain={[-20, 2500]} yTicks={countsTicks} xGap={31} data={d}>
          {pairLines(2.8, 1.8)}
        </Panel>
      ))}
      {spinSets.map((d, k) => (
        <Panel key={'s' + k} left={row2.lefts[k]} top={row2.top} h={row2.h} xDomain={[0.4, 6.75]} xTicks={wideTicks}
          yDomain={[-0.59, 0.59]} yTicks={spinTicks} xGap={29} data={d}>
          <Area
            xAxisId="b"
            yAxisId="l"
            dataKey="band"
            type="linear"
            stroke="none"
            fill="#BDBDBD"
            fillOpacity={1}
            connectNulls
            dot={false}
            activeDot={false}
            isAnimationActive={false}
          />
          <Line
            xAxisId="b"
            yAxisId="l"
            dataKey="dot"
            stroke="none"
            dot={{ r: 2.8, fill: '#000', stroke: 'none' }}
            activeDot={false}
            isAnimationActive={false}
          />
        </Panel>
      ))}
      {normSets.map((d, k) => (
        <Panel key={'n' + k} left={row3.lefts[k]} top={row3.top} h={row3.h} xDomain={[0.5, 4]} xTicks={narrowTicks}
          yDomain={[-0.1, 1.1]} yTicks={normTicks} xGap={20} data={d}>
          {pairLines(4.2, 2)}
        </Panel>
      ))}

      <svg width={2623} height={1261} style={{ position: 'absolute', left: 0, top: 0, pointerEvents: 'none' }}>
        <g fontFamily={LABEL_FONT} fontSize={47} fill="#000" textAnchor="middle">
          <text transform="translate(46,205) rotate(-90)">Counts</text>
          <text transform="translate(107,207) rotate(-90)">[recalculated]</text>
          <text transform="translate(107,577) rotate(-90)">Spin-pol.</text>
          <text transform="translate(69,995) rotate(-90)">Normalized</text>
          <text transform="translate(133,993) rotate(-90)">Intensity</text>
        </g>
        <g fontFamily={LABEL_FONT} fontSize={49} fill="#000" textAnchor="middle">
          {row3.lefts.map((l, k) => (
            <text key={'bx' + k} x={l + PW / 2 + 3} y={1243}>Binding energy [eV]</text>
          ))}
        </g>
        <g fontFamily={LABEL_FONT} fontSize={48} fill={PURPLE}>
          {row1.lefts.map((l, k) => (
            <text key={'l1' + k} x={l + 13} y={62}>{letters1[k]}</text>
          ))}
          {row2.lefts.map((l, k) => (
            <text key={'l2' + k} x={l + 10} y={641}>{letters2[k]}</text>
          ))}
          {row3.lefts.map((l, k) => (
            <text key={'l3' + k} x={l + 14} y={843}>{letters3[k]}</text>
          ))}
        </g>
        <g fontFamily={LABEL_FONT} fontSize={47} fill="#000">
          {temps.map((t, k) => (
            <text key={'t' + k} x={tempX[k]} y={118}>{t}</text>
          ))}
        </g>
        <g fontFamily={LABEL_FONT} fontSize={30} fill={GREEN} fontStyle="italic">
          <text x={342} y={230}>O 2p</text>
          <text x={518} y={258}>Eu 4f</text>
        </g>
        <g fill="none" stroke="#FF3030" strokeWidth={1}>
          <path d="M518 262 l3 -2 l3 2 l3 -2 l3 2 l3 -2 l3 2 l3 -2 l3 2 l3 -2 l3 2 l3 -2 l3 2" />
          <path d="M290 849 l3 -2 l3 2 l3 -2 l3 2 l3 -2" />
        </g>
      </svg>
    </div>
  )
}
